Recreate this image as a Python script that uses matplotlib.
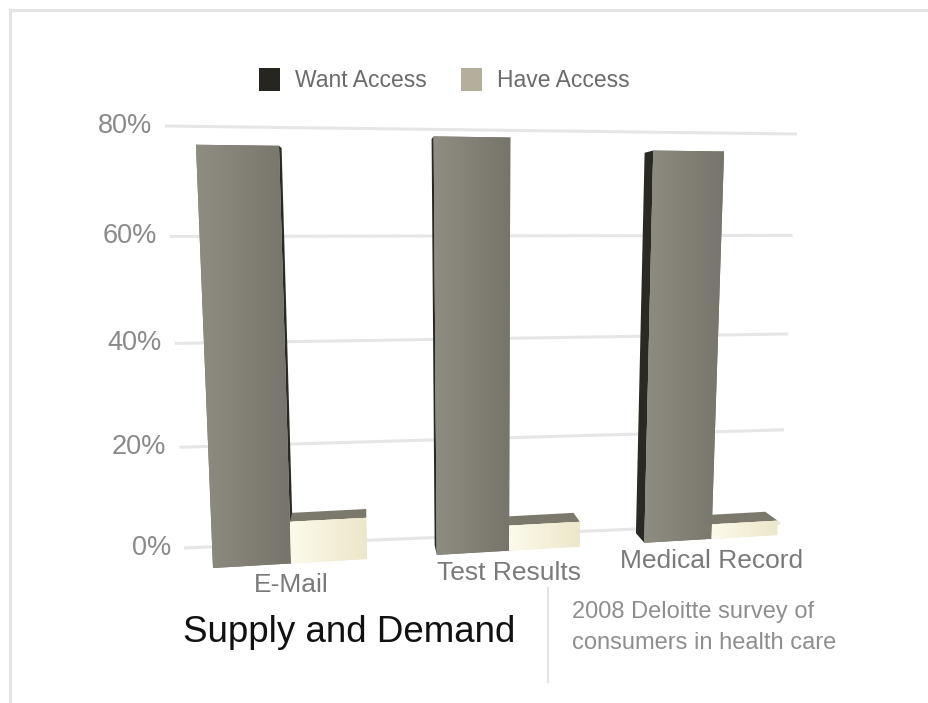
"""
Supply and demand for online health-care access, drawn as a 3-D style
bar chart: the value grid sits on a back wall, the bars stand in front
of it, and everything is seen through a slight perspective.
"""

import numpy as np
import matplotlib
matplotlib.use("Agg")
import matplotlib.pyplot as plt
from matplotlib import transforms as mtransforms
from matplotlib.colors import LinearSegmentedColormap
from matplotlib.patches import Patch

plt.rcParams["font.family"] = ["Liberation Sans", "DejaVu Sans"]

# ── Data ────────────────────────────────────────────────────────────────
CATEGORIES = ["E-Mail", "Test Results", "Medical Record"]
WANT_ACCESS = [76, 78, 76]
HAVE_ACCESS = [8, 5, 3]
SERIES = ["Want Access", "Have Access"]
Y_TICKS = [0, 20, 40, 60, 80]
Y_TICK_LABELS = ["0%", "20%", "40%", "60%", "80%"]

# ── Palette ─────────────────────────────────────────────────────────────
WANT_KEY = "#26251f"
HAVE_KEY = "#b4af9c"
WANT_FACE = ("#8f8c81", "#77756b")
WANT_SIDE = "#2a2924"
HAVE_FACE = ("#fcfaea", "#ece7ca")
HAVE_SIDE = "#bdb9a5"
HAVE_LID = "#7b786c"
GRID = "#e6e6e6"
TICK_TEXT = "#8a8a8a"
LABEL_TEXT = "#7a7a7a"
FRAME = "#e4e4e4"

# ── View geometry (canvas pixels, y down) ───────────────────────────────
W_PX, H_PX = 929, 703
BAR_W = 0.34
X_LO, X_HI = -BAR_W, len(CATEGORIES) - 1 + BAR_W
Y_TOP = 80
WALL_X = (-0.6, 2.6)
# plane corners in order (lo, 0) (hi, 0) (hi, top) (lo, top)
WALL_CORNERS = [(184, 548), (780, 523), (797, 134), (165, 126)]
FRONT_CORNERS = [(213, 568), (777, 535), (794, 131), (195, 121)]
VANISH = (366, 224)      # where receding (depth) edges meet
DEPTH = 0.03             # bar depth as a fraction of the way to VANISH


def homography(src, dst):
    rows = []
    for (x, y), (u, v) in zip(src, dst):
        rows.append([x, y, 1, 0, 0, 0, -u * x, -u * y, -u])
        rows.append([0, 0, 0, x, y, 1, -v * x, -v * y, -v])
    _, _, vt = np.linalg.svd(np.array(rows, float))
    return vt[-1].reshape(3, 3)


class PlaneTransform(mtransforms.Transform):
    """(category, value) on a tilted plane -> canvas pixels."""
    input_dims = output_dims = 2
    is_separable = False
    has_inverse = False

    def __init__(self, H):
        super().__init__()
        self.H = H

    def transform_non_affine(self, values):
        pts = np.asarray(values, float).reshape(-1, 2)
        hom = np.c_[pts, np.ones(len(pts))] @ self.H.T
        return hom[:, :2] / hom[:, 2:]


def plane(x_range, corners):
    lo, hi = x_range
    src = [(lo, 0), (hi, 0), (hi, Y_TOP), (lo, Y_TOP)]
    return homography(src, corners)


H_FRONT = plane((X_LO, X_HI), FRONT_CORNERS)
PUSH = np.array([[1 - DEPTH, 0, DEPTH * VANISH[0]],
                 [0, 1 - DEPTH, DEPTH * VANISH[1]],
                 [0, 0, 1]])
WALL = PlaneTransform(plane(WALL_X, WALL_CORNERS))
FRONT = PlaneTransform(H_FRONT)
BACK = PlaneTransform(PUSH @ H_FRONT)


def draw_depth(ax, x0, x1, top, side_color, lid_color):
    """Visible side and lid faces of one bar (front faces come from ax.bar)."""
    box = [(x0, 0), (x1, 0), (x1, top), (x0, top)]
    fr = FRONT.transform(box)
    bk = BACK.transform(box)
    faces = []
    if bk[0, 0] < fr[0, 0]:
        faces.append(([fr[0], fr[3], bk[3], bk[0]], side_color))
    if bk[1, 0] > fr[1, 0]:
        faces.append(([fr[1], fr[2], bk[2], bk[1]], side_color))
    if bk[3, 1] < fr[3, 1]:
        faces.append(([fr[3], fr[2], bk[2], bk[3]], lid_color))
    for quad, color in faces:
        q = np.array(quad)
        ax.fill(q[:, 0], q[:, 1], color=color, lw=0, zorder=2)


def shade(ax, bars, colors):
    """Left-to-right gradient clipped to each front face."""
    cmap = LinearSegmentedColormap.from_list("face", colors)
    grad = np.linspace(0, 1, 64)[None, :]
    for bar in bars:
        verts = (bar.get_patch_transform() + FRONT).transform(
            bar.get_path().vertices)
        (x0, y0), (x1, y1) = verts.min(axis=0), verts.max(axis=0)
        im = ax.imshow(grad, cmap=cmap, extent=(x0, x1, y1, y0),
                       aspect="auto", interpolation="bilinear", zorder=3.5)
        # clip to the true (skewed) outline, not its bounding box
        im.set_clip_path(bar.get_path(), bar.get_transform())


def draw():
    fig = plt.figure(figsize=(W_PX / 100, H_PX / 100), dpi=100)
    ax = fig.add_axes([0, 0, 1, 1])
    ax.set_xlim(0, W_PX)
    ax.set_ylim(H_PX, 0)
    ax.set_autoscale_on(False)
    ax.axis("off")

    wall_tr = WALL + ax.transData
    front_tr = FRONT + ax.transData

    # back wall grid + value labels
    for v, lab in zip(Y_TICKS, Y_TICK_LABELS):
        ax.plot(WALL_X, [v, v], transform=wall_tr, color=GRID, lw=2.2,
                solid_capstyle="butt", zorder=1)
        ax.text(WALL_X[0], v, lab,
                transform=mtransforms.offset_copy(wall_tr, fig=fig, x=-13,
                                                  y=0, units="dots"),
                ha="right", va="center", fontsize=19.5, color=TICK_TEXT)

    x = np.arange(len(CATEGORIES))

    # depth faces first, then the front faces on top
    for i in range(len(CATEGORIES)):
        draw_depth(ax, x[i] - BAR_W, x[i], WANT_ACCESS[i], WANT_SIDE, WANT_SIDE)
        draw_depth(ax, x[i], x[i] + BAR_W, HAVE_ACCESS[i], HAVE_SIDE, HAVE_LID)

    want = ax.bar(x - BAR_W, WANT_ACCESS, BAR_W, align="edge",
                  color=WANT_FACE[1], lw=0, transform=front_tr, zorder=3)
    have = ax.bar(x, HAVE_ACCESS, BAR_W, align="edge",
                  color=HAVE_FACE[1], lw=0, transform=front_tr, zorder=3)
    shade(ax, want, WANT_FACE)
    shade(ax, have, HAVE_FACE)

    # category labels under each pair
    label_tr = mtransforms.offset_copy(front_tr, fig=fig, x=0, y=-22,
                                       units="dots")
    for i, name in enumerate(CATEGORIES):
        ax.text(x[i], 0, name, transform=label_tr, ha="center", va="center",
                fontsize=19, color=LABEL_TEXT)

    # legend
    handles = [Patch(facecolor=WANT_KEY, lw=0), Patch(facecolor=HAVE_KEY, lw=0)]
    ax.legend(handles, SERIES, loc="center left", bbox_to_anchor=(259, 80),
              bbox_transform=ax.transData, ncol=2, frameon=False,
              borderpad=0, borderaxespad=0, fontsize=16.5,
              handlelength=0.92, handleheight=1.18, handletextpad=0.65,
              columnspacing=1.5, labelcolor="#6b6b6b")

    # title, source note, divider and frame
    ax.text(183, 632, "Supply and Demand", ha="left", va="center",
            fontsize=26.5, color="#111111")
    ax.text(572, 612, "2008 Deloitte survey of", ha="left", va="center",
            fontsize=17, color="#8e8e8e")
    ax.text(572, 643, "consumers in health care", ha="left", va="center",
            fontsize=17, color="#8e8e8e")
    ax.plot([548, 548], [588, 682], color=FRAME, lw=1.5)
    ax.plot([10, W_PX], [10, 10], color=FRAME, lw=2.2)
    ax.plot([10, 10], [10, H_PX], color=FRAME, lw=2.2)

    fig.savefig("out.png", dpi=100)


if __name__ == "__main__":
    draw()
